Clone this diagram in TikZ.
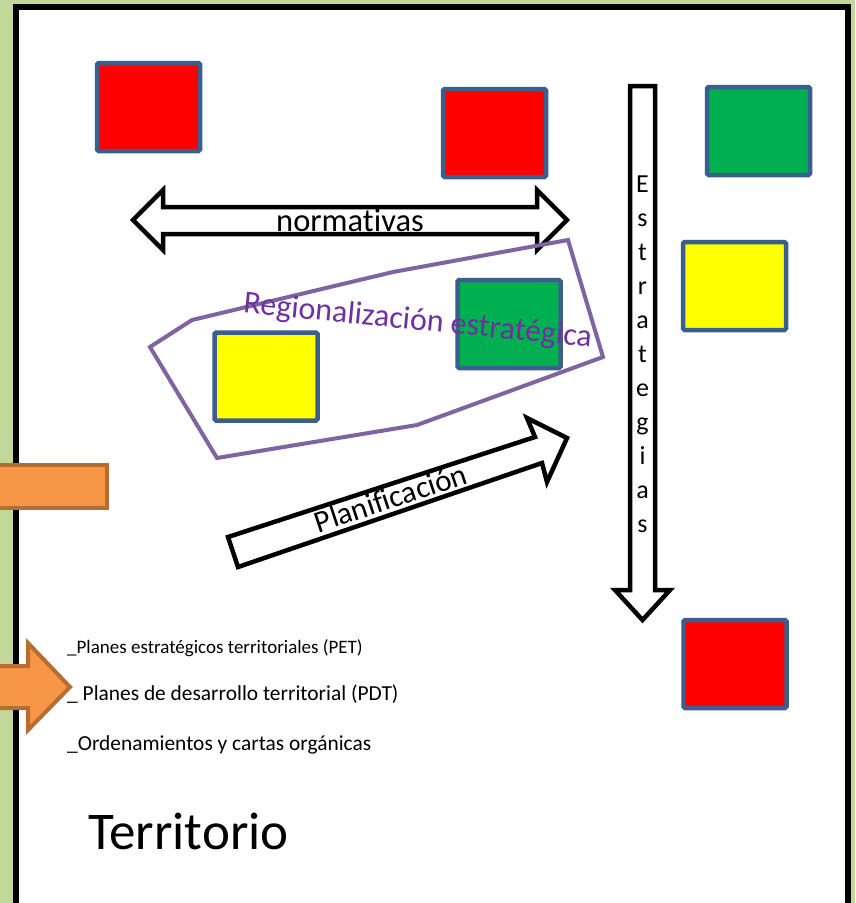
\documentclass[tikz,border=0pt]{standalone}
\usepackage{fontspec}
\setmainfont[Ligatures=NoCommon]{Carlito}
\usepackage{tikz}
\usetikzlibrary{positioning}
\definecolor{pagegreen}{HTML}{C3D69B}
\definecolor{tileblue}{HTML}{3A5F8C}
\definecolor{tilered}{HTML}{FF0000}
\definecolor{tilegreen}{HTML}{00B050}
\definecolor{tileyellow}{HTML}{FFFF00}
\definecolor{regionline}{HTML}{8064A2}
\definecolor{regiontext}{HTML}{7030A0}
\definecolor{orangefill}{HTML}{F79646}
\definecolor{orangeline}{HTML}{B66D31}

\tikzset{
  tile/.style={draw=tileblue, line width=4.5pt, rounded corners=1.5pt,
    minimum width=103pt, minimum height=88pt, inner sep=0pt},
  blockarrow/.style={draw=black, fill=white, line width=4.5pt, line join=miter},
  orangeshape/.style={draw=orangeline, fill=orangefill, line width=4pt, line join=miter},
  listline/.style={anchor=base west, inner sep=0pt}
}

\begin{document}
\begin{tikzpicture}[x=1pt, y=-1pt]
    \useasboundingbox (0,0) rectangle (855,903);

    % Page and frame
    \fill[pagegreen] (0,0) rectangle (855,903);
    \fill[white] (16,7) rectangle (848,910);
    \draw[line width=5.5pt] (16,910) -- (16,7) -- (848,7) -- (848,910);

    % Coloured tiles
    \node[tile, fill=tilered] (red1) at (148.5,107) {};
    \node[tile, fill=tilered] (red2) at (494.5,133) {};
    \node[tile, fill=tilegreen] (green1) at (758.5,131) {};
    \node[tile, fill=tileyellow] (yellow1) at (734.5,286) {};
    \node[tile, fill=tilered] (red3) at (735,664) {};

    % normativas (double block arrow)
    \draw[blockarrow] (133,220) -- (163,190) -- (163,207) -- (537,207) -- (537,190)
        -- (567,220) -- (537,250) -- (537,234) -- (163,234) -- (163,250) -- cycle;
    \node[anchor=base, font=\fontsize{32.5}{38}\selectfont] (normativas) at (350,231) {normativas};

    % Region tiles and outline
    \node[tile, fill=tilegreen] (green2) at (509,324) {};
    \node[tile, fill=tileyellow] (yellow2) at (266,376.5) {};
    \draw[regionline, line width=4pt, line join=miter]
        (150,347) -- (192,320) -- (393,272) -- (568,240) -- (603,357) -- (417,425) -- (217,458) -- cycle;
    \node[anchor=base, rotate=-5.6, text=regiontext, font=\fontsize{32}{38}\selectfont]
        (region) at (417,330) {Regionalización estratégica};

    % Planificacion (block arrow)
    \draw[blockarrow] (228,537) -- (535,437) -- (527,418) -- (567,438) -- (547,482)
        -- (542,463) -- (238,567) -- cycle;
    \node[anchor=base, rotate=18.4, font=\fontsize{31}{36}\selectfont] (planif) at (394,508) {Planificación};

    % Estrategias (down block arrow)
    \draw[blockarrow] (630,86) -- (655,86) -- (655,590) -- (670,590) -- (642.5,620)
        -- (615,590) -- (630,590) -- cycle;
    \foreach \l [count=\i from 0] in {E,s,t,r,a,t,e,g,i,a,s} {
        \node[anchor=base, inner sep=0pt, font=\fontsize{26}{30}\selectfont] (letter\i) at (642.5,192+34*\i) {\l};
    }

    % Orange shapes on the left edge
    \draw[orangeshape] (-5,465) rectangle (107,508);
    \draw[orangeshape] (-5,666) -- (28,666) -- (28,643) -- (70,687) -- (28,730) -- (28,708) -- (-5,708) -- cycle;

    % List of plans
    \node[listline, font=\fontsize{19}{22}\selectfont] (pet) at (67,653) {\_Planes estratégicos territoriales (PET)};
    \node[listline, font=\fontsize{21.4}{25}\selectfont] (pdt) at (67,700) {\_ Planes de desarrollo territorial (PDT)};
    \node[listline, font=\fontsize{21.4}{25}\selectfont] (ord) at (67,750) {\_Ordenamientos y cartas orgánicas};

    % Title
    \node[listline, font=\fontsize{53}{60}\selectfont] (territorio) at (88,849) {Territorio};
\end{tikzpicture}
\end{document}
